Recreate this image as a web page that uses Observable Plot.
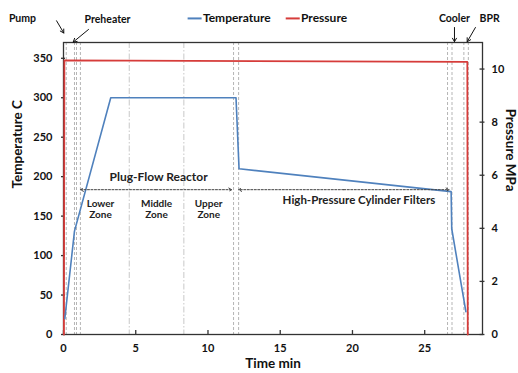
<!DOCTYPE html>
<html><head><meta charset="utf-8">
<script src="https://cdn.jsdelivr.net/npm/d3@7"></script>
<script src="https://cdn.jsdelivr.net/npm/@observablehq/plot@0.6"></script>
<style>body{margin:0;background:#fff}</style>
</head><body><div id="chart"></div>
<script>
// Temperature series (time in min, temperature in C)
const tempTime = [0.09, 0.76, 3.27, 11.94, 12.15, 26.83, 26.87, 27.85];
const tempValue = [20, 131, 300, 300, 210, 181, 134, 29];
// Pressure series (time in min, pressure in MPa)
const presTime = [0.03, 0.06, 27.95, 27.98];
const presValue = [0, 10.33, 10.27, 0];
// Section boundaries (min)
const dashTimes = [0.19, 0.76, 0.9, 1.17, 11.77, 12.12, 26.58, 26.89, 27.71, 28.02];
const zoneTimes = [4.55, 8.33];
// Ticks
const xTicks = [0, 5, 10, 15, 20, 25];
const tempTicks = [0, 50, 100, 150, 200, 250, 300, 350];
const presTicks = [0, 2, 4, 6, 8, 10];
const tempMax = 370, presMax = 11, timeMax = 29;
const k = tempMax / presMax;

const temp = tempTime.map((t, i) => ({t, v: tempValue[i]}));
const pres = presTime.map((t, i) => ({t, v: presValue[i] * k}));

const font = {fontFamily: "Lato", fontWeight: "bold"};
const blue = "#4f81bd", red = "#d63c3a";

const chart = Plot.plot({
  width: 518, height: 373,
  marginTop: 42, marginRight: 36, marginBottom: 39, marginLeft: 63,
  style: {fontFamily: "Lato", fontSize: "11px", fontWeight: "bold", color: "#111", background: "#fff"},
  x: {domain: [0, timeMax], label: null},
  y: {domain: [0, tempMax], label: null},
  marks: [
    Plot.ruleX(dashTimes, {stroke: "#b5b5b5", strokeDasharray: "3,2", strokeWidth: 1}),
    Plot.ruleX(zoneTimes, {stroke: "#c8c8c8", strokeDasharray: "6,2,1.5,2", strokeWidth: 1}),
    Plot.frame({stroke: "#333", strokeWidth: 1.3}),
    Plot.ruleX(xTicks, {y1: 0, y2: 5, stroke: "#333", strokeWidth: 1.3}),
    Plot.ruleY(tempTicks, {x1: -0.14, x2: 0.14, stroke: "#333", strokeWidth: 1.3}),
    Plot.ruleY(presTicks.map(p => p * k), {x1: timeMax - 0.17, x2: timeMax + 0.17, stroke: "#333", strokeWidth: 1.3}),
    Plot.axisX(xTicks, {tickSize: 0, tickPadding: 10, label: null, fontSize: 11, ...font}),
    Plot.axisY(tempTicks, {anchor: "left", tickSize: 0, tickPadding: 11, label: null, fontSize: 11, ...font}),
    Plot.axisY(presTicks.map(p => p * k), {anchor: "right", tickSize: 0, tickPadding: 9, label: null,
      tickFormat: d => Math.round(d / k), fontSize: 11, ...font}),
    Plot.line(pres, {x: "t", y: "v", stroke: red, strokeWidth: 1.8}),
    Plot.line(temp, {x: "t", y: "v", stroke: blue, strokeWidth: 1.6}),
    // axis titles
    Plot.text(["Temperature C"], {frameAnchor: "left", dx: -46, rotate: -90, fontSize: 13.5, ...font, fill: "#111"}),
    Plot.text(["Pressure MPa"], {frameAnchor: "right", dx: 28, dy: 3, rotate: 90, fontSize: 13.5, ...font, fill: "#111"}),
    Plot.text(["Time min"], {frameAnchor: "bottom", dy: 33, fontSize: 13.5, ...font, fill: "#111"}),
    // legend
    Plot.link([0], {x1: 8.59, x2: 9.56, y1: 400.5, y2: 400.5, stroke: blue, strokeWidth: 2}),
    Plot.text(["Temperature"], {x: 9.65, y: 400.5, textAnchor: "start", fontSize: 12, ...font, fill: "#111"}),
    Plot.link([0], {x1: 15.38, x2: 16.35, y1: 400.5, y2: 400.5, stroke: red, strokeWidth: 2}),
    Plot.text(["Pressure"], {x: 16.44, y: 400.5, textAnchor: "start", fontSize: 12, ...font, fill: "#111"}),
    // equipment labels and arrows
    Plot.text(["Pump"], {x: -2.84, y: 400.5, fontSize: 10.5, ...font, fill: "#111"}),
    Plot.arrow([0], {x1: -0.48, y1: 397.5, x2: 0.02, y2: 382, stroke: "#111", strokeWidth: 1, headLength: 6}),
    Plot.text(["Preheater"], {x: 3.05, y: 399, fontSize: 10.5, ...font, fill: "#111"}),
    Plot.arrow([0], {x1: 1.73, y1: 386.5, x2: 0.67, y2: 370.5, stroke: "#111", strokeWidth: 1, headLength: 6}),
    Plot.text(["Cooler"], {x: 27.06, y: 400.5, fontSize: 10.5, ...font, fill: "#111"}),
    Plot.arrow([0], {x1: 27.06, y1: 389, x2: 27.06, y2: 371, stroke: "#111", strokeWidth: 1, headLength: 6}),
    Plot.text(["BPR"], {x: 29.49, y: 400.5, fontSize: 10.5, ...font, fill: "#111"}),
    Plot.arrow([0], {x1: 28.51, y1: 389, x2: 27.94, y2: 371, stroke: "#111", strokeWidth: 1, headLength: 6}),
    // section annotations
    Plot.text(["Plug-Flow Reactor"], {x: 6.58, y: 199, fontSize: 12, ...font, fill: "#222"}),
    Plot.arrow([0], {x1: 6.4, y1: 183.5, x2: 1.18, y2: 183.5, stroke: "#444", strokeWidth: 1, strokeDasharray: "2,1.5", headLength: 5}),
    Plot.arrow([0], {x1: 6.4, y1: 183.5, x2: 11.64, y2: 183.5, stroke: "#444", strokeWidth: 1, strokeDasharray: "2,1.5", headLength: 5}),
    Plot.arrow([0], {x1: 19.4, y1: 183.5, x2: 12.13, y2: 183.5, stroke: "#444", strokeWidth: 1, strokeDasharray: "2,1.5", headLength: 5}),
    Plot.arrow([0], {x1: 19.4, y1: 183.5, x2: 26.68, y2: 183.5, stroke: "#444", strokeWidth: 1, strokeDasharray: "2,1.5", headLength: 5}),
    Plot.text(["Lower\nZone"], {x: 2.56, y: 159, fontSize: 10, lineHeight: 1.15, ...font, fill: "#222"}),
    Plot.text(["Middle\nZone"], {x: 6.44, y: 159, fontSize: 10, lineHeight: 1.15, ...font, fill: "#222"}),
    Plot.text(["Upper\nZone"], {x: 10.05, y: 159, fontSize: 10, lineHeight: 1.15, ...font, fill: "#222"}),
    Plot.text(["High-Pressure Cylinder Filters"], {x: 20.45, y: 170, fontSize: 11.5, ...font, fill: "#222"})
  ]
});
document.getElementById("chart").append(chart);
</script>
</body></html>
